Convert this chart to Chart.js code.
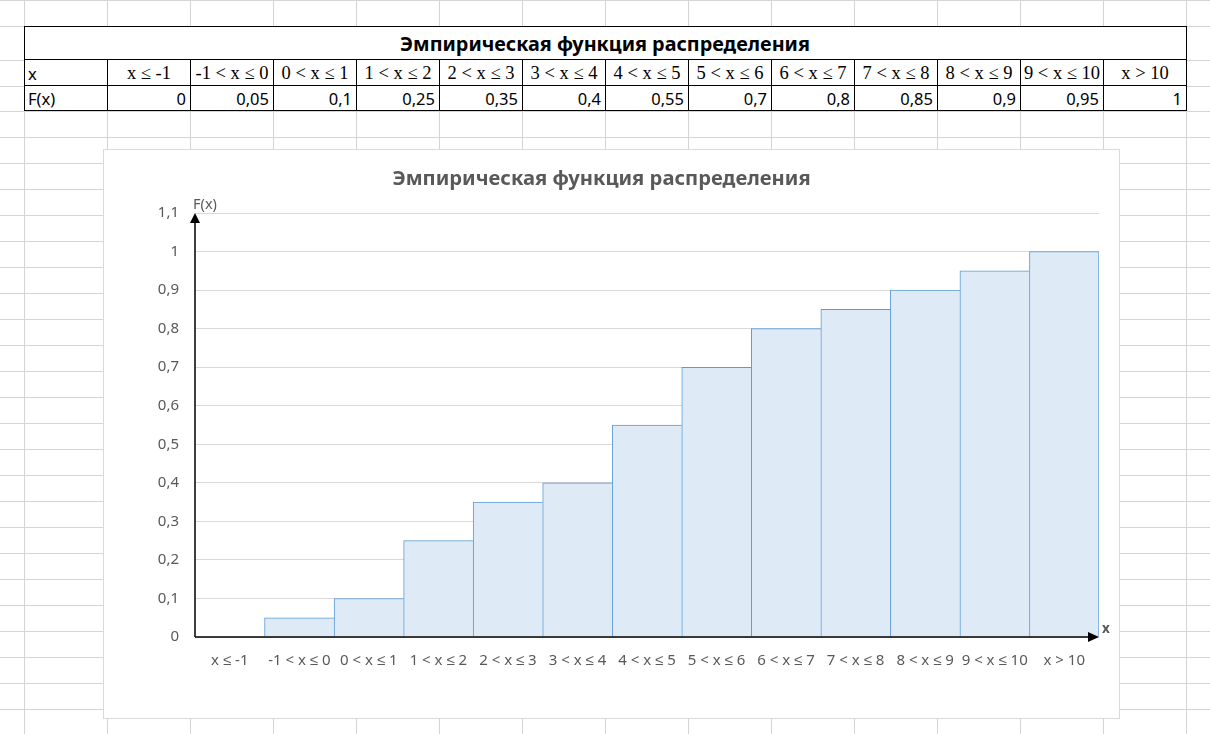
<!DOCTYPE html>
<html>
<head>
<meta charset="utf-8">
<script src="https://cdn.jsdelivr.net/npm/chart.js@4.4.1/dist/chart.umd.min.js"></script>
<style>
    html, body { margin: 0; padding: 0; background: #fff; width: 1210px; height: 734px; overflow: hidden; }
    body { position: relative; font-family: 'Noto Sans', sans-serif; }
    .gl { position: absolute; background: #d4d4d4; }
    #sheetTable { position: absolute; left: 24px; top: 26px; border-collapse: collapse; table-layout: fixed; background: #fff; }
    #sheetTable td { border: 1px solid #000; padding: 0 4px 1px 3px; vertical-align: bottom; white-space: nowrap; overflow: visible; font-size: 16.5px; line-height: 21px; color: #000; }
    #sheetTable td.title { text-align: center; font-weight: bold; font-size: 19.8px; line-height: 24px; height: 29px; padding-bottom: 3px; }
    #sheetTable td.cat { text-align: center; font-family: 'Liberation Serif', serif; font-size: 18.5px; padding: 0 0 1px 0; }
    #sheetTable td.num { text-align: right; }
    #chartBox { position: absolute; left: 103px; top: 149px; width: 1015px; height: 568px; border: 1px solid #d9d9d9; background: #fff; }
</style>
</head>
<body>
<div id="grid"></div>
<table id="sheetTable"></table>
<div id="chartBox"><canvas id="cdfChart"></canvas></div>
<script>
const chartTitle = 'Эмпирическая функция распределения';
const categories = ['x ≤ -1', '-1 < x ≤ 0', '0 < x ≤ 1', '1 < x ≤ 2', '2 < x ≤ 3', '3 < x ≤ 4', '4 < x ≤ 5',
    '5 < x ≤ 6', '6 < x ≤ 7', '7 < x ≤ 8', '8 < x ≤ 9', '9 < x ≤ 10', 'x > 10'];
const cdfValues = [0, 0.05, 0.1, 0.25, 0.35, 0.4, 0.55, 0.7, 0.8, 0.85, 0.9, 0.95, 1];
const yTickLabels = ['0', '0,1', '0,2', '0,3', '0,4', '0,5', '0,6', '0,7', '0,8', '0,9', '1', '1,1'];
const xAxisName = 'x';
const yAxisName = 'F(x)';

const fmt = (v) => String(v).replace('.', ',');

// spreadsheet gridlines
const grid = document.getElementById('grid');
const rowLines = [0, 26, 60, 86];
for (let y = 111; y < 734; y += 26) rowLines.push(y);
rowLines.forEach(y => {
    const d = document.createElement('div');
    d.className = 'gl';
    d.style.cssText = `left:0;top:${y}px;width:1210px;height:1px`;
    grid.appendChild(d);
});
for (let x = 24; x < 1210; x += 83) {
    const d = document.createElement('div');
    d.className = 'gl';
    d.style.cssText = `left:${x}px;top:0;width:1px;height:734px`;
    grid.appendChild(d);
}

// table above the chart
const table = document.getElementById('sheetTable');
let html = '<colgroup>' + '<col style="width:83px">'.repeat(categories.length + 1) + '</colgroup>';
html += `<tr><td class="title" colspan="${categories.length + 1}">${chartTitle}</td></tr>`;
html += '<tr style="height:26px"><td>x</td>' + categories.map(c => `<td class="cat">${c}</td>`).join('') + '</tr>';
html += '<tr style="height:25px"><td>F(x)</td>' + cdfValues.map(v => `<td class="num">${fmt(v)}</td>`).join('') + '</tr>';
table.innerHTML = html;

const axisArrows = {
    id: 'axisArrows',
    afterDatasetsDraw(chart) {
        const { ctx, chartArea: { left, right, top, bottom } } = chart;
        ctx.save();
        ctx.strokeStyle = '#000';
        ctx.fillStyle = '#000';
        ctx.lineWidth = 1.5;
        ctx.beginPath();
        ctx.moveTo(left, bottom);
        ctx.lineTo(right - 8, bottom);
        ctx.moveTo(left, bottom);
        ctx.lineTo(left, top + 8);
        ctx.stroke();
        ctx.beginPath();
        ctx.moveTo(right, bottom);
        ctx.lineTo(right - 11, bottom - 5);
        ctx.lineTo(right - 11, bottom + 5);
        ctx.closePath();
        ctx.fill();
        ctx.beginPath();
        ctx.moveTo(left, top);
        ctx.lineTo(left - 5, top + 10);
        ctx.lineTo(left + 5, top + 10);
        ctx.closePath();
        ctx.fill();
        ctx.fillStyle = '#595959';
        ctx.textAlign = 'left';
        ctx.textBaseline = 'middle';
        ctx.font = '14.5px "Noto Sans"';
        ctx.fillText(yAxisName, left - 2, top - 8);
        ctx.font = 'bold 13.5px "Noto Sans"';
        ctx.fillText(xAxisName, right + 3, bottom - 8);
        ctx.restore();
    }
};

Chart.defaults.font.family = "'Noto Sans', sans-serif";
Chart.defaults.color = '#595959';

new Chart(document.getElementById('cdfChart'), {
    type: 'bar',
    data: {
        labels: categories,
        datasets: [{
            label: 'F(x)',
            data: cdfValues,
            backgroundColor: '#deebf7',
            borderColor: '#5b9bd5',
            borderWidth: (c) => ({ top: 1, left: 1, right: c.dataIndex === cdfValues.length - 1 ? 1 : 0, bottom: 0 }),
            borderSkipped: false,
            barPercentage: 1,
            categoryPercentage: 1,
        }]
    },
    options: {
        responsive: true,
        maintainAspectRatio: false,
        animation: false,
        layout: { padding: { left: 0, right: 20, top: 0, bottom: 0 } },
        scales: {
            x: {
                grid: { display: false, drawTicks: false },
                border: { display: false },
                ticks: { autoSkip: false, maxRotation: 0, padding: 15, font: { size: 15 }, color: '#595959' },
                afterFit: (s) => { s.height = 81; },
            },
            y: {
                min: 0,
                max: 1.1,
                grid: { color: '#d9d9d9', lineWidth: 1, drawTicks: false },
                border: { display: false },
                ticks: {
                    stepSize: 0.1,
                    padding: 16,
                    font: { size: 15 },
                    color: '#595959',
                    callback: (v, i) => yTickLabels[i],
                },
                afterFit: (s) => { s.width = 91; },
            }
        },
        plugins: {
            legend: { display: false },
            tooltip: { enabled: false },
            title: {
                display: true,
                text: chartTitle,
                color: '#595959',
                font: { size: 20.2, weight: 'bold' },
                padding: { top: 17.5, bottom: 21.3 },
            },
        },
    },
    plugins: [axisArrows],
});
</script>
</body>
</html>
